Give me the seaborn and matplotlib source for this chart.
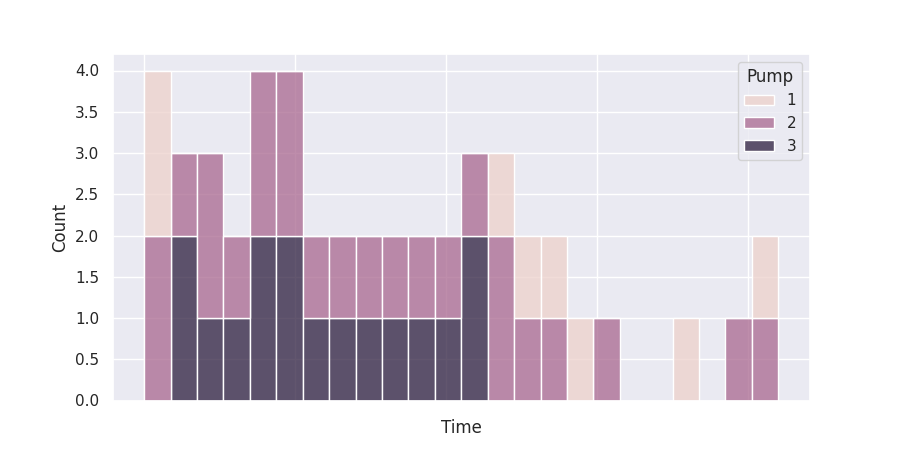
import numpy as np
import pandas as pd
import matplotlib
matplotlib.use("Agg")
import matplotlib.pyplot as plt
import seaborn as sns

# bin counts (24 bins, left to right), stacked per pump
pump1_counts = [2, 0, 0, 0, 0, 0, 0, 0, 0, 0, 0, 0, 0, 1, 1, 1, 1, 0, 0, 0, 1, 0, 0, 1]
pump2_counts = [2, 1, 2, 1, 2, 2, 1, 1, 1, 1, 1, 1, 1, 2, 1, 1, 0, 1, 0, 0, 0, 0, 1, 1]
pump3_counts = [0, 2, 1, 1, 2, 2, 1, 1, 1, 1, 1, 1, 2, 0, 0, 0, 0, 0, 0, 0, 0, 0, 0, 0]

n_bins = 24
t_start, t_end = 0.0, 21.0
width = (t_end - t_start) / n_bins
centers = t_start + width * (np.arange(n_bins) + 0.5)

rows = []
for pump, counts in [(1, pump1_counts), (2, pump2_counts), (3, pump3_counts)]:
    times = np.repeat(centers, counts)
    rows.append(pd.DataFrame({"Time": times, "Pump": pump}))
df = pd.concat(rows, ignore_index=True)

sns.set_theme()
fig, ax = plt.subplots(figsize=(9, 4.5), dpi=100)
sns.histplot(data=df, x="Time", hue="Pump", bins=n_bins,
             binrange=(t_start, t_end), multiple="stack", ax=ax)
ax.set_xticks([0, 5, 10, 15, 20])
ax.set_xticklabels([])
ax.set_yticks(np.arange(0, 4.5, 0.5))
fig.savefig("out.png")
